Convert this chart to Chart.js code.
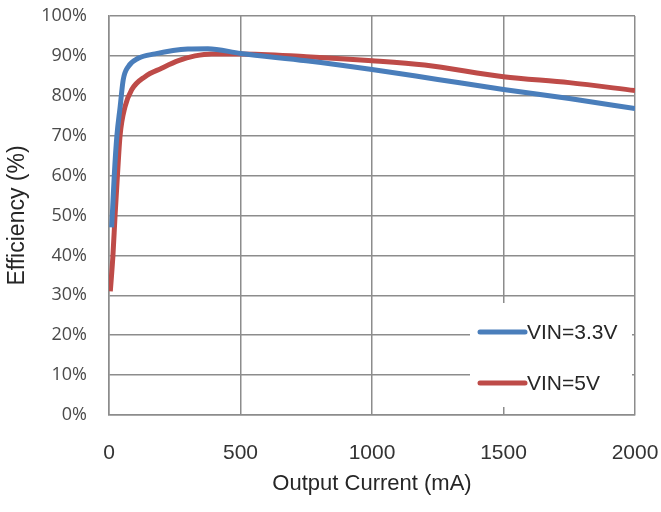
<!DOCTYPE html>
<html><head><meta charset="utf-8">
<script src="https://cdn.jsdelivr.net/npm/chart.js@4.4.1/dist/chart.umd.min.js"></script>
<style>html,body{margin:0;padding:0;background:#fff;}#wrap{width:661px;height:512px;position:relative;}</style>
</head><body><div id="wrap"><canvas id="c"></canvas></div>
<script>
const xTickValues = [0, 500, 1000, 1500, 2000];
const yTickValues = [0, 10, 20, 30, 40, 50, 60, 70, 80, 90, 100];
const seriesLabels = ['VIN=3.3V', 'VIN=5V'];
const blueCurrent = [10, 14, 20, 30, 42, 54, 73, 111, 175, 300, 376, 500, 750, 1000, 1250, 1500, 1750, 2000];
const blueEff = [47, 52, 60, 70, 77, 84, 87.3, 89.4, 90.5, 91.7, 91.8, 90.6, 88.8, 86.6, 84.1, 81.6, 79.3, 76.8];
const redCurrent = [5, 15, 23, 32, 42, 61, 86, 137, 200, 264, 327, 390, 500, 750, 1000, 1200, 1500, 1750, 2000];
const redEff = [31, 40, 50, 60, 70, 77.3, 81.5, 84.8, 86.9, 88.8, 90, 90.5, 90.5, 89.8, 88.8, 87.7, 84.8, 83.3, 81.3];
const xTitle = 'Output Current (mA)';
const yTitle = 'Efficiency (%)';

const toPts = (xs, ys) => xs.map((x, i) => ({x: x, y: ys[i]}));
const gridColor = '#8c8c8c';

const insetLegend = {
  id: 'insetLegend',
  beforeDatasetsDraw(chart) {
    const {ctx, chartArea: a} = chart;
    const x0 = a.right - 165, y0 = a.bottom - 112, w = 162, h = 104;
    ctx.save();
    ctx.fillStyle = '#fff';
    ctx.fillRect(x0, y0, w, h);
    chart.data.datasets.forEach((ds, i) => {
      const cy = y0 + 29 + i * 51;
      ctx.strokeStyle = ds.borderColor;
      ctx.lineWidth = 5;
      ctx.lineCap = 'round';
      ctx.beginPath();
      ctx.moveTo(x0 + 10, cy);
      ctx.lineTo(x0 + 55, cy);
      ctx.stroke();
      ctx.fillStyle = '#262626';
      ctx.font = '21px "Liberation Sans", Arial, sans-serif';
      ctx.textBaseline = 'middle';
      ctx.textAlign = 'left';
      ctx.fillText(ds.label, x0 + 57, cy + 1);
    });
    ctx.restore();
  }
};

new Chart(document.getElementById('c'), {
  type: 'line',
  data: {
    datasets: [
      {label: seriesLabels[0], data: toPts(blueCurrent, blueEff), borderColor: '#4a7ebb', borderWidth: 5, pointRadius: 0, cubicInterpolationMode: 'monotone', fill: false},
      {label: seriesLabels[1], data: toPts(redCurrent, redEff), borderColor: '#be4b48', borderWidth: 5, pointRadius: 0, cubicInterpolationMode: 'monotone', fill: false}
    ]
  },
  options: {
    responsive: true,
    maintainAspectRatio: false,
    animation: false,
    devicePixelRatio: 1,
    layout: {padding: {top: 16, right: 26, bottom: 0, left: 0}},
    plugins: {legend: {display: false}, tooltip: {enabled: false}},
    scales: {
      x: {
        type: 'linear', min: 0, max: 2000,
        afterBuildTicks: s => { s.ticks = xTickValues.map(v => ({value: v})); },
        afterFit: s => { s.height = 97; s.paddingLeft = 0; s.paddingRight = 0; },
        ticks: {padding: 26, color: '#333', font: {family: '"Liberation Sans", Arial, sans-serif', size: 21}, maxRotation: 0, callback: v => String(v)},
        grid: {color: gridColor, lineWidth: 1.5, drawTicks: false},
        border: {color: gridColor, width: 1.5},
        title: {display: true, text: xTitle, color: '#262626', font: {family: '"Liberation Sans", Arial, sans-serif', size: 22}, padding: {top: 0, bottom: 15}}
      },
      y: {
        min: 0, max: 100,
        afterBuildTicks: s => { s.ticks = yTickValues.map(v => ({value: v})); },
        afterFit: s => { s.width = 109; s.paddingTop = 0; s.paddingBottom = 0; },
        ticks: {padding: 22, color: '#4a4a4a', font: {family: '"Open Sans", sans-serif', size: 18}, callback: v => v + '%'},
        grid: {color: gridColor, lineWidth: 1.5, drawTicks: false},
        border: {color: gridColor, width: 1.5},
        title: {display: true, text: yTitle, color: '#262626', font: {family: '"Liberation Sans", Arial, sans-serif', size: 23}, padding: {top: 4, bottom: 0}}
      }
    }
  },
  plugins: [insetLegend]
});
</script>
</body></html>
